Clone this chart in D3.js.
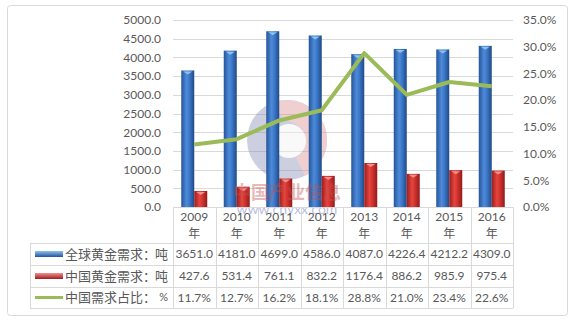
<!DOCTYPE html>
<html><head><meta charset="utf-8">
<script src="https://cdn.jsdelivr.net/npm/d3@7"></script>
<style>body{margin:0;background:#fff}svg{display:block}</style>
</head><body><svg id="c" width="575" height="323"></svg>
<script>
const years = ["2009","2010","2011","2012","2013","2014","2015","2016"];
const globalDemand = [3651.0,4181.0,4699.0,4586.0,4087.0,4226.4,4212.2,4309.0];
const chinaDemand = [427.6,531.4,761.1,832.2,1176.4,886.2,985.9,975.4];
const chinaShare = [11.7,12.7,16.2,18.1,28.8,21.0,23.4,22.6];
const leftTicks = [0,500,1000,1500,2000,2500,3000,3500,4000,4500,5000];
const rightTicks = [0,5,10,15,20,25,30,35];
const seriesNames = ["全球黄金需求：吨","中国黄金需求：吨","中国需求占比：%"];

const svg = d3.select("#c");
const font = "Lato, 'Noto Sans CJK SC', sans-serif";
const txt = "#595959", grid = "#D9D9D9";

svg.append("rect").attr("x",7.5).attr("y",5.5).attr("width",560).attr("height",310).attr("rx",3)
  .attr("fill","#fff").attr("stroke","#D9D9D9");

const x = d3.scaleBand().domain(years).range([173,513]);
const yL = d3.scaleLinear().domain([0,5000]).range([207,20]);
const yR = d3.scaleLinear().domain([0,35]).range([207,20]);

const defs = svg.append("defs");
function grad(id, stops){
  const g = defs.append("linearGradient").attr("id",id).attr("x1","0").attr("x2","1").attr("y1","0").attr("y2","0");
  stops.forEach(s=>g.append("stop").attr("offset",s[0]).attr("stop-color",s[1]));
}
grad("gb",[[0,"#24549A"],[0.4,"#4D8AD8"],[0.6,"#3F7BCB"],[1,"#1F4A88"]]);
grad("gr",[[0,"#9E1C1C"],[0.4,"#E4463E"],[0.6,"#D6352F"],[1,"#921A1A"]]);

// gridlines
svg.append("g").selectAll("line").data(leftTicks).join("line")
  .attr("x1",173).attr("x2",513).attr("y1",d=>Math.round(yL(d))+0.5).attr("y2",d=>Math.round(yL(d))+0.5)
  .attr("stroke",grid);

// left axis labels
const axL = svg.append("g").attr("transform","translate(173,0)")
  .call(d3.axisLeft(yL).tickValues(leftTicks).tickFormat(d=>d.toFixed(1)).tickSize(0).tickPadding(12));
axL.select(".domain").remove();
axL.selectAll("text").attr("fill",txt).style("font-family",font).style("font-size","12px");

const axR = svg.append("g").attr("transform","translate(513,0)")
  .call(d3.axisRight(yR).tickValues(rightTicks).tickFormat(d=>d.toFixed(1)+"%").tickSize(0).tickPadding(10));
axR.select(".domain").remove();
axR.selectAll("text").attr("fill",txt).style("font-family",font).style("font-size","12px");

// watermark
const wm = svg.append("g").attr("opacity",0.4);
wm.append("circle").attr("cx",287).attr("cy",140).attr("r",40).attr("fill","#8088B0");
wm.append("path").attr("d","M272,103 A40,40 0 0 1 327,140 A40,40 0 0 1 305,176 L296,158 A20,20 0 0 0 285,121 Z").attr("fill","#D98A8A");
wm.append("circle").attr("cx",289).attr("cy",141).attr("r",17).attr("fill","#F2F2F2");

const bw = 13;
// bars
svg.append("g").selectAll("rect").data(globalDemand).join("rect")
  .attr("x",(d,i)=>x(years[i])+x.bandwidth()/2-bw).attr("width",bw)
  .attr("y",d=>yL(d)).attr("height",d=>yL(0)-yL(d)).attr("fill","url(#gb)");
svg.append("g").selectAll("path").data(globalDemand).join("path")
  .attr("d",(d,i)=>{const x0=x(years[i])+x.bandwidth()/2-bw;const y0=yL(d);return `M${x0+2},${y0+1} L${x0+bw-2},${y0+1} L${x0+bw/2},${y0+4} Z`;})
  .attr("fill","#8EC0F0");
svg.append("g").selectAll("rect").data(chinaDemand).join("rect")
  .attr("x",(d,i)=>x(years[i])+x.bandwidth()/2).attr("width",bw)
  .attr("y",d=>yL(d)).attr("height",d=>yL(0)-yL(d)).attr("fill","url(#gr)");
svg.append("g").selectAll("path").data(chinaDemand).join("path")
  .attr("d",(d,i)=>{const x0=x(years[i])+x.bandwidth()/2;const y0=yL(d);return `M${x0+2},${y0+1} L${x0+bw-2},${y0+1} L${x0+bw/2},${y0+4} Z`;})
  .attr("fill","#F09090");

// line
svg.append("path").datum(chinaShare)
  .attr("d",d3.line().x((d,i)=>x(years[i])+x.bandwidth()/2).y(d=>yR(d)))
  .attr("fill","none").attr("stroke","#9BBB59").attr("stroke-width",4).attr("stroke-linejoin","round");

// watermark text
const wt = svg.append("g").attr("opacity",0.4).style("font-family",font);
wt.append("text").attr("x",287).attr("y",199).attr("text-anchor","middle").attr("fill","#C85050")
  .style("font-size","18px").style("font-weight","bold").text("中国产业信息");
wt.append("text").attr("x",287).attr("y",214).attr("text-anchor","middle").attr("fill","#5060B0")
  .style("font-size","14px").text("www.chyxx.com");

// table
const tb = svg.append("g");
const rowY = [243,265,287,308];
tb.selectAll("line.v").data(years.concat(["end"])).join("line")
  .attr("x1",(d,i)=>Math.round(173+i*x.step())+0.5).attr("x2",(d,i)=>Math.round(173+i*x.step())+0.5)
  .attr("y1",207).attr("y2",308).attr("stroke",grid);
tb.append("line").attr("x1",30.5).attr("x2",30.5).attr("y1",243).attr("y2",308).attr("stroke",grid);
tb.selectAll("line.h").data(rowY).join("line")
  .attr("x1",30).attr("x2",513).attr("y1",d=>d+0.5).attr("y2",d=>d+0.5).attr("stroke",grid);
tb.append("line").attr("x1",173).attr("x2",513).attr("y1",207.5).attr("y2",207.5).attr("stroke",grid);

// header
years.forEach((yr,i)=>{
  const cx = x(yr)+x.bandwidth()/2;
  tb.append("text").attr("x",cx).attr("y",221).attr("text-anchor","middle").attr("fill",txt)
    .style("font-family",font).style("font-size","12px").text(yr);
  tb.append("text").attr("x",cx).attr("y",238).attr("text-anchor","middle").attr("fill",txt)
    .style("font-family",font).style("font-size","12px").text("年");
});
const rows = [globalDemand.map(d=>d.toFixed(1)), chinaDemand.map(d=>d.toFixed(1)), chinaShare.map(d=>d.toFixed(1)+"%")];
rows.forEach((r,ri)=>{
  const cy = (rowY[ri]+rowY[ri+1])/2;
  r.forEach((v,i)=>{
    tb.append("text").attr("x",x(years[i])+x.bandwidth()/2).attr("y",cy).attr("dy","0.35em")
      .attr("text-anchor","middle").attr("fill",txt).style("font-family",font).style("font-size","12px").text(v);
  });
  tb.append("text").attr("x",65).attr("y",cy).attr("dy","0.36em").attr("fill",txt)
    .style("font-family",font).style("font-size","13px").text(seriesNames[ri].slice(0,-1));
});
// units: last char
[["吨",13],["吨",13],["%",11]].forEach((u,ri)=>{
  const cy=(rowY[ri]+rowY[ri+1])/2;
  tb.append("text").attr("x",168).attr("y",cy).attr("dy","0.36em").attr("text-anchor","end").attr("fill",txt)
    .style("font-family",font).style("font-size",u[1]+"px").text(u[0]);
});
// legend keys
const k1=(rowY[0]+rowY[1])/2, k2=(rowY[1]+rowY[2])/2, k3=(rowY[2]+rowY[3])/2;
const kg = defs.append("linearGradient").attr("id","kb").attr("x1",0).attr("x2",0).attr("y1",0).attr("y2",1);
kg.append("stop").attr("offset",0).attr("stop-color","#8EC0F0");kg.append("stop").attr("offset",1).attr("stop-color","#24549A");
const kr = defs.append("linearGradient").attr("id","kr").attr("x1",0).attr("x2",0).attr("y1",0).attr("y2",1);
kr.append("stop").attr("offset",0).attr("stop-color","#F09090");kr.append("stop").attr("offset",1).attr("stop-color","#9E1C1C");
tb.append("rect").attr("x",35).attr("y",k1-3).attr("width",28).attr("height",6).attr("fill","url(#kb)");
tb.append("rect").attr("x",35).attr("y",k2-3).attr("width",28).attr("height",6).attr("fill","url(#kr)");
tb.append("line").attr("x1",35).attr("x2",63).attr("y1",k3).attr("y2",k3).attr("stroke","#9BBB59").attr("stroke-width",3);
</script></body></html>
